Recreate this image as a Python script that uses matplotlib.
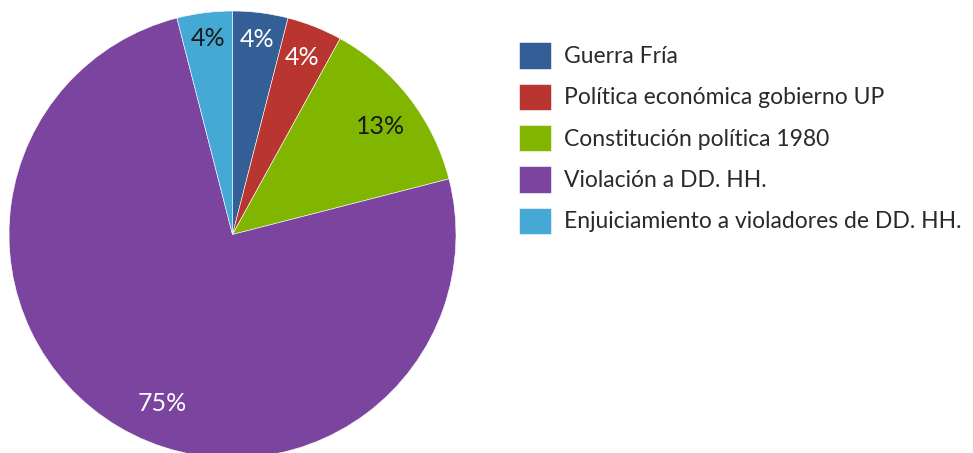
import numpy as np
import matplotlib.pyplot as plt

plt.rcParams['font.family'] = ['Lato', 'DejaVu Sans']

categories = ['Guerra Fría', 'Política económica gobierno UP', 'Constitución política 1980',
              'Violación a DD. HH.', 'Enjuiciamiento a violadores de DD. HH.']
values = [4, 4, 13, 75, 4]
colors = ['#335E96', '#B9352F', '#80B600', '#7B449E', '#45A9D6']
label_colors = ['white', 'white', '#1a1a1a', 'white', '#1a1a1a']

# per-slice label radius and angle nudge (degrees)
label_r = [0.88, 0.85, 0.82, 0.82, 0.885]
label_da = [0, 0, -1.5, 8, 0]

fig = plt.figure(figsize=(9.73, 4.53), dpi=100)
ax = fig.add_axes([9 / 973, -5 / 453, 447 / 973, 447 / 453])

wedges, _ = ax.pie(values, colors=colors, startangle=90, counterclock=False,
                   radius=1, wedgeprops=dict(edgecolor='white', linewidth=0.4))
ax.set_xlim(-1, 1)
ax.set_ylim(-1, 1)
ax.set_aspect('equal')
ax.axis('off')

for w, v, r, da, c in zip(wedges, values, label_r, label_da, label_colors):
    ang = np.radians((w.theta1 + w.theta2) / 2 + da)
    ax.text(r * np.cos(ang), r * np.sin(ang), f'{v}%', ha='center', va='center',
            fontsize=18, color=c)

fig.legend(wedges, categories, loc='upper left', bbox_to_anchor=(510 / 973, 1 - 33 / 453),
           frameon=False, handlelength=1.4, handleheight=1.4,
           labelspacing=0.65, handletextpad=0.55, borderaxespad=0,
           prop=dict(size=16.5), labelcolor='#2a2a2a')

fig.savefig('out.png', dpi=100)
